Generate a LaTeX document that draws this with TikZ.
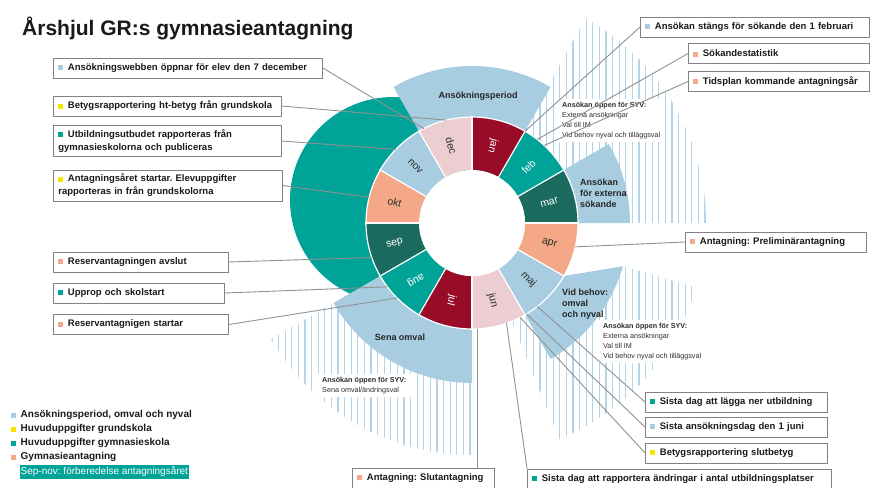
\documentclass[tikz,border=0pt]{standalone}
\usepackage{fontspec}
\setmainfont{Liberation Sans}
\frenchspacing

\definecolor{ljusbla}{RGB}{168,205,225}
\definecolor{randbla}{RGB}{180,211,231}
\definecolor{turkos}{RGB}{0,163,152}
\definecolor{morkturkos}{RGB}{26,107,94}
\definecolor{vinrod}{RGB}{152,12,40}
\definecolor{laxrosa}{RGB}{245,168,135}
\definecolor{ljusrosa}{RGB}{236,205,210}
\definecolor{gul}{RGB}{250,225,0}
\definecolor{ramgra}{RGB}{130,130,130}
\definecolor{linjegra}{RGB}{145,145,145}
\definecolor{morktext}{RGB}{45,45,45}

\newcommand{\prick}[1]{{\color{#1}\rule{5pt}{5pt}}\hspace{4.5pt}}
\newcommand{\sektor}[5]{\fill[#1] (#2:#4) arc[start angle=#2,end angle=#3,radius=#4] -- (#3:#5) arc[start angle=#3,end angle=#2,radius=#5] -- cycle;}

\tikzset{
  faktaruta/.style={draw=ramgra, line width=0.8pt, fill=white, anchor=west, align=left,
    inner xsep=5pt, inner ysep=4pt, minimum height=20pt,
    font=\bfseries\fontsize{9.5}{13}\selectfont, text=black!90},
  linje/.style={draw=linjegra, line width=0.9pt},
  manad/.style={font=\fontsize{10.5}{12}\selectfont, inner sep=0pt},
  sektortext/.style={font=\bfseries\fontsize{9}{11}\selectfont, align=left, text=black!85, inner sep=0pt},
  syvtext/.style={font=\fontsize{7.2}{10}\selectfont, align=left, anchor=north west, fill=white,
    text=morktext, inner xsep=5pt, inner ysep=3pt},
  randor/.style={randbla, line width=1.3pt},
  legend/.style={anchor=west, inner sep=0pt, font=\bfseries\fontsize{10}{12}\selectfont, text=black!90},
}

\begin{document}
\begin{tikzpicture}[x=1pt,y=1pt]
\useasboundingbox (0,0) rectangle (872,-487);

\begin{scope}[shift={(472,-223)}]
  \begin{scope}
    \clip (0:106) -- (0:234) arc[start angle=0,end angle=61,radius=234] -- (61:106) arc[start angle=61,end angle=0,radius=106] -- cycle;
    \foreach \x in {2,8.6,...,240} \draw[randor] (\x,0) -- (\x,240);
  \end{scope}
  \begin{scope}
    \clip (-30:106) -- (-16:157) -- (-16:233) arc[start angle=-16,end angle=-68,radius=233] -- (-68:106) arc[start angle=-68,end angle=-30,radius=106] -- cycle;
    \foreach \x in {2,8.6,...,240} \draw[randor] (\x,0) -- (\x,-240);
  \end{scope}
  \begin{scope}
    \clip (210:106) -- (210:232) arc[start angle=210,end angle=270,radius=232] -- (270:106) arc[start angle=270,end angle=210,radius=106] -- cycle;
    \foreach \x in {-2,-8.6,...,-240} \draw[randor] (\x,0) -- (\x,-240);
  \end{scope}

  \fill[turkos] (-79,23) circle (103);
  \sektor{ljusbla}{60}{120}{157}{106}
  \sektor{ljusbla}{0}{30}{158}{106}
  \fill[ljusbla] (-30:106) -- (-16:157) arc[start angle=-16,end angle=-60,radius=157] -- (-60:106) arc[start angle=-60,end angle=-30,radius=106] -- cycle;
  \sektor{ljusbla}{210}{270}{160}{106}

  \foreach \namn/\farg/\fran/\vrid/\tfarg in {
      jan/vinrod/60/-105/white, feb/turkos/30/45/white, mar/morkturkos/0/15/white,
      apr/laxrosa/-30/-15/morktext, maj/ljusbla/-60/-45/morktext, jun/ljusrosa/-90/-75/morktext,
      jul/vinrod/-120/-105/white, aug/turkos/-150/210/white, sep/morkturkos/-180/15/white,
      okt/laxrosa/150/-15/morktext, nov/ljusbla/120/-45/morktext, dec/ljusrosa/90/-75/morktext}{
    \pgfmathsetmacro\till{\fran+30}
    \pgfmathsetmacro\mitt{\fran+15}
    \sektor{\farg}{\fran}{\till}{106}{53}
    \node[manad, text=\tfarg, rotate=\vrid] (m\namn) at (\mitt:80) {\namn};
  }
  \fill[white] (0,0) circle (53);
  \draw[white, line width=1.2pt] (0,0) circle (106);
  \foreach \v in {0,30,...,330} \draw[white, line width=1.2pt] (\v:52) -- (\v:107);

  \coordinate (pWebb) at (117:106);
  \coordinate (pHtbetyg) at (104:106);
  \coordinate (pUtbud) at (136:106);
  \coordinate (pAntar) at (166:106);
  \coordinate (pAvslut) at (199:106);
  \coordinate (pUpprop) at (217:106);
  \coordinate (pResStart) at (225:106);
  \coordinate (pStang) at (60:106);
  \coordinate (pStat) at (52:106);
  \coordinate (pTidsplan) at (47:106);
  \coordinate (pPrel) at (-13:106);
  \coordinate (pLagga) at (-52:106);
  \coordinate (pSistaAns) at (-59:106);
  \coordinate (pSlutbetyg) at (-63:106);
  \coordinate (pRapport) at (-71:106);
  \coordinate (pSlutant) at (-87:106);
\end{scope}

\node[sektortext] (period) at (478,-96) {Ansökningsperiod};
\node[sektortext, anchor=west] (externa) at (580,-193) {Ansökan\\för externa\\sökande};
\node[sektortext, anchor=west] (vidbehov) at (562,-304) {Vid behov:\\omval\\och nyval};
\node[sektortext] (senaomval) at (400,-337) {Sena omval};

\node[syvtext] (syvVinter) at (557,-99) {\textbf{Ansökan öppen för SYV:}\\Externa ansökningar\\Val till IM\\Vid behov nyval och tilläggsval};
\node[syvtext] (syvVar) at (598,-320) {\textbf{Ansökan öppen för SYV:}\\Externa ansökningar\\Val till IM\\Vid behov nyval och tilläggsval};
\node[syvtext] (syvHost) at (317,-374) {\textbf{Ansökan öppen för SYV:}\\Sena omval/ändringsval};

\node[faktaruta, text width=259pt] (webb) at (53,-68) {\prick{ljusbla}Ansökningswebben öppnar för elev den 7 december};
\node[faktaruta, text width=218pt] (htbetyg) at (53,-106) {\prick{gul}Betygsrapportering ht-betyg från grundskola};
\node[faktaruta, text width=218pt] (utbud) at (53,-141) {\prick{turkos}Utbildningsutbudet rapporteras från\\gymnasieskolorna och publiceras};
\node[faktaruta, text width=219pt] (antar) at (53,-185.5) {\prick{gul}Antagningsåret startar. Elevuppgifter\\rapporteras in från grundskolorna};
\node[faktaruta, text width=165pt] (avslut) at (53,-262) {\prick{laxrosa}Reservantagningen avslut};
\node[faktaruta, text width=161pt] (upprop) at (53,-293) {\prick{turkos}Upprop och skolstart};
\node[faktaruta, text width=165pt] (resstart) at (53,-324.5) {\prick{laxrosa}Reservantagnigen startar};
\node[faktaruta, text width=219pt] (stang) at (640,-27) {\prick{ljusbla}Ansökan stängs för sökande den 1 februari};
\node[faktaruta, text width=171pt] (statistik) at (688,-53.5) {\prick{laxrosa}Sökandestatistik};
\node[faktaruta, text width=171pt] (tidsplan) at (688,-81.5) {\prick{laxrosa}Tidsplan kommande antagningsår};
\node[faktaruta, text width=171pt] (prel) at (685,-242) {\prick{laxrosa}Antagning: Preliminärantagning};
\node[faktaruta, text width=172pt] (lagga) at (645,-402) {\prick{turkos}Sista dag att lägga ner utbildning};
\node[faktaruta, text width=172pt] (sistaans) at (645,-427) {\prick{ljusbla}Sista ansökningsdag den 1 juni};
\node[faktaruta, text width=172pt] (slutbetyg) at (645,-453) {\prick{gul}Betygsrapportering slutbetyg};
\node[faktaruta, text width=294pt] (rapport) at (527,-479) {\prick{turkos}Sista dag att rapportera ändringar i antal utbildningsplatser};
\node[faktaruta, text width=132pt] (slutant) at (352,-478) {\prick{laxrosa}Antagning: Slutantagning};

\draw[linje] (webb.east) -- (pWebb);
\draw[linje] (htbetyg.east) -- (pHtbetyg);
\draw[linje] (utbud.east) -- (pUtbud);
\draw[linje] (antar.east) -- (pAntar);
\draw[linje] (avslut.east) -- (pAvslut);
\draw[linje] (upprop.east) -- (pUpprop);
\draw[linje] (resstart.east) -- (pResStart);
\draw[linje] (stang.west) -- (pStang);
\draw[linje] (statistik.west) -- (pStat);
\draw[linje] (tidsplan.west) -- (pTidsplan);
\draw[linje] (prel.west) -- (pPrel);
\draw[linje] (lagga.west) -- (pLagga);
\draw[linje] (sistaans.west) -- (pSistaAns);
\draw[linje] (slutbetyg.west) -- (pSlutbetyg);
\draw[linje] (rapport.north west) -- (pRapport);
\draw[linje] (pSlutant) -- (pSlutant |- slutant.north);

\node[anchor=base west, inner sep=0pt, font=\bfseries\fontsize{21}{24}\selectfont, text=black!90] (rubrik) at (22,-36) {Årshjul GR:s gymnasieantagning};

\node[legend] (leg1) at (11,-415) {\prick{ljusbla}Ansökningsperiod, omval och nyval};
\node[legend] (leg2) at (11,-429) {\prick{gul}Huvuduppgifter grundskola};
\node[legend] (leg3) at (11,-443) {\prick{turkos}Huvuduppgifter gymnasieskola};
\node[legend] (leg4) at (11,-457) {\prick{laxrosa}Gymnasieantagning};
\node[anchor=west, fill=turkos, text=white, inner xsep=1pt, inner ysep=1.5pt, font=\fontsize{10}{12}\selectfont] (sepnov) at (19.5,-472) {Sep-nov: förberedelse antagningsåret};
\end{tikzpicture}
\end{document}
